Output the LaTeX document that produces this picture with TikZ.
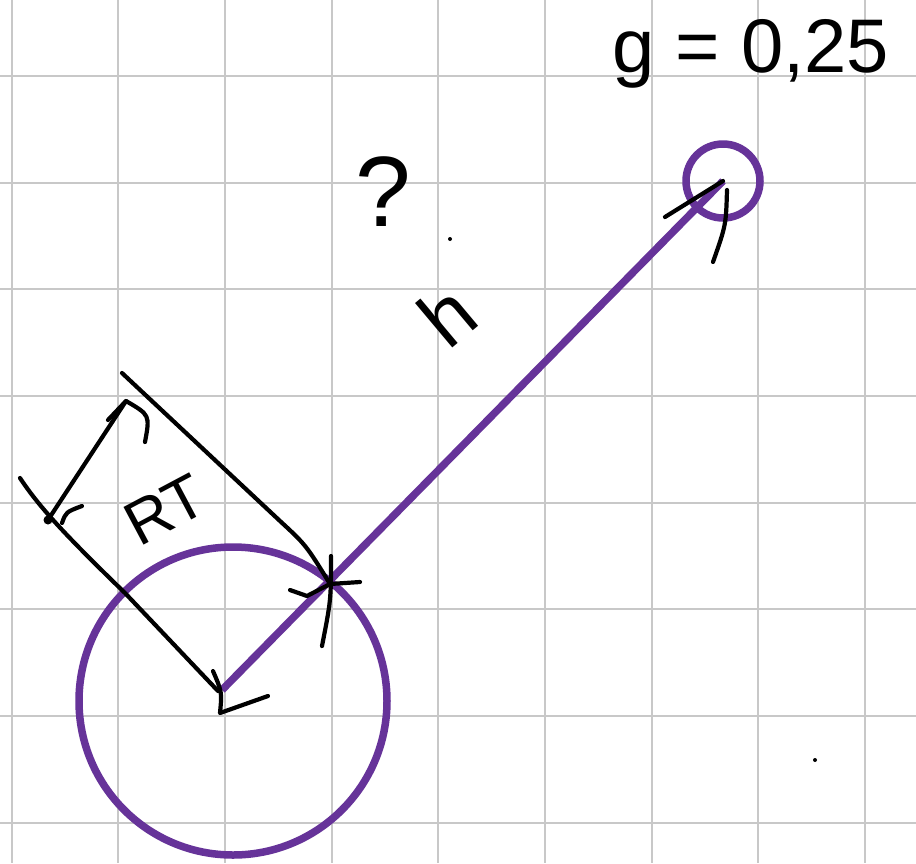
\documentclass[tikz,border=0pt]{standalone}
\usepackage{fontspec}
\setmainfont{Liberation Sans}
\definecolor{pen}{RGB}{102,51,153}
\definecolor{gridc}{RGB}{200,200,200}
\begin{document}
\begin{tikzpicture}[x=1pt,y=-1pt,
  gridline/.style={gridc,line width=2pt},
  ink/.style={black,line width=4.2pt,line cap=round,line join=round},
  body/.style={circle,draw=pen,line width=7.5pt,inner sep=0pt},
  purpleline/.style={pen,line width=7.5pt},
  hand/.style={inner sep=0pt,font=\fontsize{#1}{#1}\selectfont}]
\useasboundingbox (0,0) rectangle (916,863);
\fill[white] (0,0) rectangle (916,863);
% grid paper
\foreach \k in {0,...,8} \draw[gridline] ({11.7+106.67*\k},0) -- ({11.7+106.67*\k},863);
\foreach \k in {0,...,7} \draw[gridline] (0,{76+106.67*\k}) -- (916,{76+106.67*\k});
% bodies
\node[body,minimum size=308pt] (earth) at (233,701) {};
\node[body,minimum size=74pt] (sat) at (723,181) {};
\coordinate (base) at (222,690);
\coordinate (surf) at (330,584);
\draw[purpleline] (base) -- (sat.center);
% arrowhead at satellite
\draw[ink] (665,217) -- (sat.center);
\draw[ink] (727,190) .. controls (726,225) .. (713,262);
% dimension line to surface
\draw[ink] (122,373) -- (280,521) .. controls (306,545) .. (surf);
\draw[ink] (331,556) .. controls (331,600) .. (322,646);
\draw[ink] (290,590) -- (307,596) -- (surf) -- (360,582);
% dimension line to centre
\draw[ink] (20,478) .. controls (38,505) and (60,530) .. (125,593) -- (218,691);
\draw[ink] (213,671) .. controls (222,692) .. (220,713) -- (268,696);
% double arrow RT
\coordinate (da) at (48,520);
\coordinate (db) at (126,401);
\draw[ink] (da) -- (db);
\draw[ink] (108,420) -- (db) .. controls (150,415) .. (145,442);
\draw[ink] (82,506) .. controls (66,512) .. (62,523);
\fill (da) circle (4.5pt);
% labels
\node[hand=62,rotate=28] (rt) at (165,510) {RT};
\node[hand=100] (q) at (383,192) {?};
\node[hand=80,rotate=40] (h) at (447,315) {h};
\node[hand=76,anchor=base west] (g) at (612,72) {g = 0,25};
% stray dots
\fill (450,239) circle (2pt);
\fill (815,760) circle (2pt);
\end{tikzpicture}
\end{document}
